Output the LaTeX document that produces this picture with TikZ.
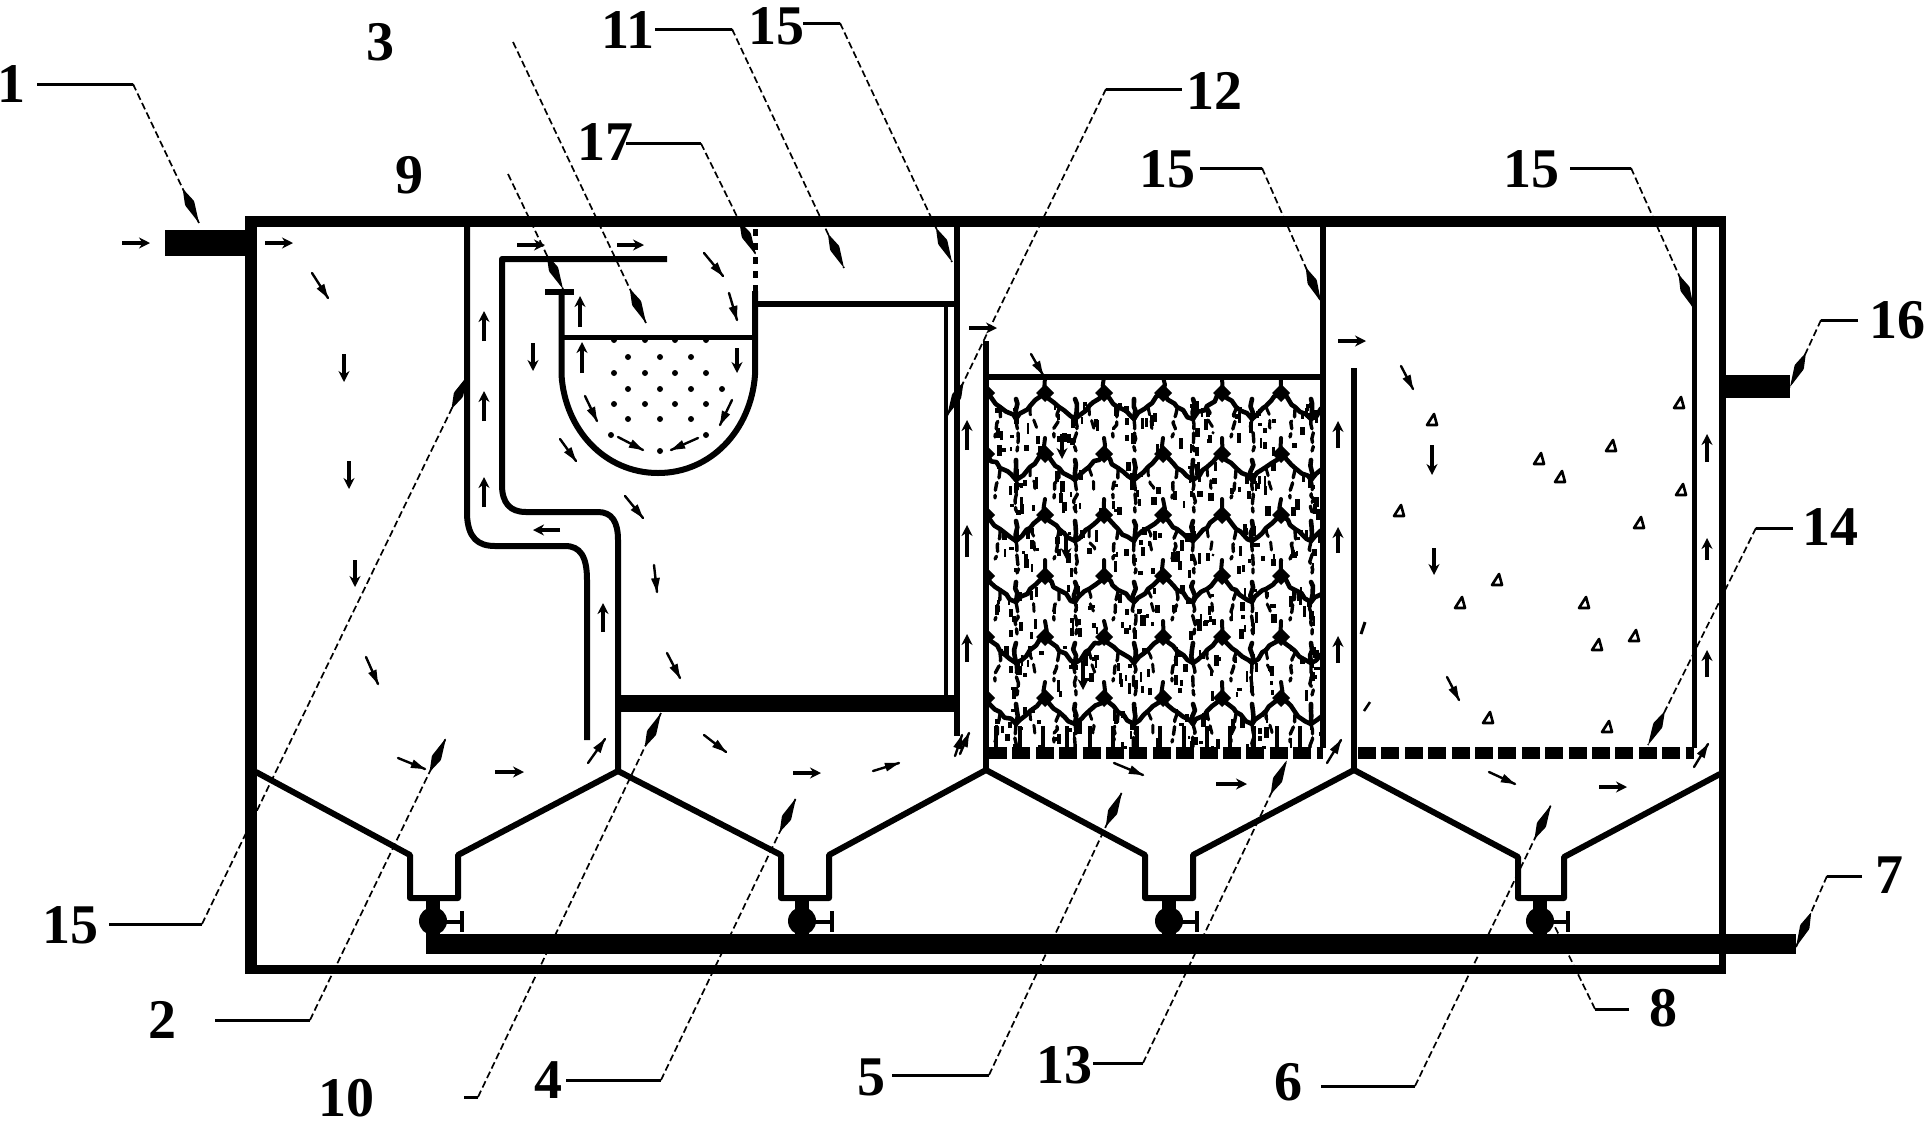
\documentclass[tikz,border=0pt]{standalone}
\usepackage{fontspec}
\setmainfont{Liberation Serif}
\usetikzlibrary{arrows.meta,calc,decorations.pathmorphing}
\tikzset{
  wall/.style={line width=6pt,line join=round},
  thinwall/.style={line width=5pt,line join=round},
  flow/.style={line width=3.4pt,-{Stealth[length=11pt,width=11pt]}},
  lab/.style={font=\fontsize{56}{56}\selectfont\bfseries,inner sep=0pt},
  leadh/.style={line width=3pt},
  leadd/.style={line width=1.7pt,dash pattern=on 7pt off 3.5pt},
  bubble/.style={line width=2.6pt,fill=white,line join=round},
  scaleln/.style={line width=4.6pt,line join=round,line cap=round,decorate,decoration={random steps,segment length=7pt,amplitude=2pt}}
}
\newcommand{\kite}[2]{%
  \fill[rounded corners=1pt] (#1) -- ($($(#1)!22pt!(#2)$)!5pt!90:(#1)$) -- ($(#1)!38pt!(#2)$) -- ($($(#1)!22pt!(#2)$)!5pt!-90:(#1)$) -- cycle;
}
\newcommand{\lead}[7]{%
  \node[lab] (l#1) at (#3) {#2};
  \coordinate (h#1) at (#4);
  \coordinate (k#1) at (#5);
  \coordinate (t#1) at (#6);
  \draw[leadh] (h#1) -- (k#1);
  \draw[leadd] (k#1) -- (t#1);
  \ifnum#7=1 \kite{t#1}{k#1}\fi
}
\begin{document}
\begin{tikzpicture}[x=1pt,y=-1pt]
\useasboundingbox (0,0) rectangle (1924,1125);
\fill[white] (0,0) rectangle (1924,1125);
% media
\begin{scope}
\clip (989,380) rectangle (1320,748);
\pgfmathsetseed{7}
\foreach \r in {0,...,5}{
  \pgfmathsetmacro{\yy}{393+61*\r}
  \foreach \c in {0,...,5}{
    \pgfmathsetmacro{\xx}{986+59*\c}
    \draw[scaleln] (\xx,\yy) -- (\xx+14,\yy+14) -- (\xx+30,\yy+26) -- (\xx+44,\yy+13) -- (\xx+59,\yy);
    \draw[scaleln] (\xx+30,\yy+26) -- (\xx+30,\yy+6);
    \draw[scaleln,line width=4pt] (\xx+59,\yy) -- (\xx+59,\yy-16);
    \draw[scaleln,line width=3.4pt,dash pattern=on 10pt off 4pt] (\xx+30,\yy+26) -- (\xx+31,\yy+58);
    \draw[scaleln,line width=3.4pt,dash pattern=on 8pt off 5pt] (\xx+14,\yy+16) -- (\xx+9,\yy+44);
    \draw[scaleln,line width=3pt,dash pattern=on 8pt off 6pt] (\xx+44,\yy+14) -- (\xx+50,\yy+40);
    \fill (\xx,\yy-9) -- (\xx+9,\yy) -- (\xx,\yy+9) -- (\xx-9,\yy) -- cycle;
    \foreach \n in {1,...,13}{
      \pgfmathsetmacro{\rx}{\xx+8+rnd*46}
      \pgfmathsetmacro{\ry}{\yy+8+rnd*48}
      \pgfmathsetmacro{\rw}{2+rnd*3.5}
      \pgfmathsetmacro{\rh}{2.5+rnd*9}
      \fill (\rx,\ry) rectangle (\rx+\rw,\ry+\rh);
    }
  }
}
\foreach \x in {996,1020,1043,1067,1090,1113,1137,1160,1184,1207,1230,1254,1277,1300}{
  \draw[line width=4pt] (\x,726) -- (\x,748);
}
\end{scope}
% outer box
\fill (245,216) rectangle (257,974);
\fill (245,216) rectangle (1726,227);
\fill (245,965) rectangle (1726,974);
\fill (1719,216) rectangle (1726,974);
\fill (165,230) rectangle (245,256);
\fill (1726,375) rectangle (1790,398);
% pipe walls
\draw[wall] (467,221) -- (467,515) .. controls (468,538) and (478,546) .. (495,546) -- (565,546) .. controls (580,546) and (587,556) .. (587,580) -- (587,740);
\draw[wall] (667,259) -- (502,259) -- (502,485) .. controls (502,503) and (510,512) .. (526,512) -- (598,512) .. controls (612,512) and (618,522) .. (618,540) -- (618,772);
% tank
\draw[wall] (561.5,293) -- (561.5,375) .. controls (565,430) and (605,473) .. (658,473) .. controls (711,473) and (751,430) .. (755,375) -- (755,291);
\draw[wall] (545,292) -- (574,292);
\draw[thinwall] (561,337.5) -- (755,337.5);
\draw[line width=5pt,dash pattern=on 7pt off 7pt] (755,229) -- (755,291);
\foreach \x/\y in {628/357,660/357,691/357,614/373,645/373,675/373,706/373,628/389,660/389,691/389,722/389,614/404,645/404,675/404,706/404,628/419,660/419,691/419,611/435,706/435,660/451}{
  \fill (\x,\y) circle (3pt);
}
\foreach \x in {614,645,675,706}{\fill (\x,340) circle (3pt);}
% partitions
\draw[wall] (755,304) -- (956,304);
\draw[line width=4pt] (946,304) -- (946,696);
\draw[wall] (956.5,221) -- (956.5,736);
\fill (618,695) rectangle (960,712);
\draw[wall] (986,341) -- (986,770);
\draw[wall] (986,377) -- (1323,377);
\draw[wall] (1323,221) -- (1323,748);
\draw[wall] (1354,368) -- (1354,770);
\draw[thinwall] (1694,221) -- (1694,748);
% plates
\draw[line width=12pt,dash pattern=on 18pt off 5.4pt] (989,752.5) -- (1323,752.5);
\draw[line width=12pt,dash pattern=on 18pt off 5.4pt] (1358,752.5) -- (1694,752.5);
% hoppers
\draw[wall] (256,772) -- (410,855) -- (410,898) -- (458,898) -- (458,855) -- (618,771) -- (781,855) -- (781,898) -- (829,898) -- (829,855) -- (986,770) -- (1145,855) -- (1145,898) -- (1193,898) -- (1193,855) -- (1354,770) -- (1518,857) -- (1518,898) -- (1564,898) -- (1564,857) -- (1720,774);
% valves
\foreach \x/\b in {433/462,802/832,1169/1197,1540/1568}{
  \fill (\x-7,898) rectangle (\x+7,935);
  \fill (\x,921) circle (14pt);
  \draw[line width=4pt] (\x,922) -- (\b,922);
  \draw[line width=4pt] (\b,911) -- (\b,932);
}
\fill (426,934) rectangle (1796,954);
% flow arrows
\foreach \a/\b/\c/\d in {
122/243/150/243, 265/243/293/243, 344/354/344/382, 349/461/349/489, 355/560/355/587,
495/772/524/772, 603/632/603/603, 560/530/533/530,
484/341/484/311, 484/421/484/391, 484/507/484/477, 517/245/545/245, 617/245/644/245, 533/343/533/371,
580/327/580/296, 582/373/582/342, 737/348/737/373,
793/773/821/773,
969/328/997/328, 967/450/967/420, 967/557/967/525, 967/662/967/634,
1062/434/1062/459, 1066/534/1066/559, 1083/661/1083/690, 1216/784/1247/784,
1338/448/1338/421, 1338/553/1338/527, 1338/663/1338/636, 1338/341/1366/341,
1432/445/1432/475, 1434/548/1434/575, 
1599/787/1627/787, 1707/462/1707/434, 1707/560/1707/538, 1707/677/1707/650}{
  \draw[flow] (\a,\b) -- (\c,\d);
}
\foreach \a/\b/\c/\d in {
312/273/328/298, 366/657/378/684, 398/758/425/769, 588/763/605/739,
704/253/723/276, 729/293/737/320, 585/396/597/421, 732/400/720/425, 618/437/643/450, 698/438/671/450, 560/439/576/461, 625/496/643/518,
654/565/657/592, 667/653/680/678, 704/735/726/752, 873/771/899/763, 955/756/962/735,
960/754/969/733, 1031/354/1043/375, 1114/763/1143/775,
1327/763/1341/740, 1401/366/1413/389, 1447/677/1459/700, 1489/772/1515/784, 1694/767/1708/744}{
  \draw[line width=2.4pt,line cap=round] (\a,\b) -- (\c,\d);
  \fill (\c,\d) -- ($($(\c,\d)!14pt!(\a,\b)$)!4.5pt!90:(\c,\d)$) -- ($($(\c,\d)!14pt!(\a,\b)$)!4.5pt!-90:(\c,\d)$) -- cycle;
}
% bubbles
\foreach \x/\y in {1432/420,1679/403,1611/446,1539/459,1560/477,1681/490,1399/511,1639/523,1497/580,1584/603,1634/636,1597/645,1488/718,1607/727,1460/603}{
  \draw[bubble] (\x-5,\y+5) -- (\x+5,\y+5) -- (\x+2,\y-6) -- cycle;
}
\draw[line width=2.5pt] (1364,711) -- (1370,702);
\draw[line width=3pt] (1361,634) -- (1365,622);
% leaders
\lead{a}{1}{12,84}{37,84}{133,84}{199,223}{1}
\lead{c}{3}{380,42}{513,42}{513,42}{646,323}{1}
\lead{i}{9}{409,175}{508,174}{508,174}{563,289}{1}
\lead{k}{11}{628,30}{655,29}{732,29}{844,268}{1}
\lead{o}{15}{776,26}{803,23}{840,23}{952,262}{1}
\lead{q}{17}{605,142}{626,143.5}{701,143.5}{756,255}{1}
\lead{l}{12}{1214,91}{1106,89}{1182,89}{1182,89}{0}
\coordinate (tl) at (947,416);
\draw[leadd] (hl) -- (tl);
\kite{tl}{hl}
\lead{p}{15}{1167,169}{1200,168}{1262,168}{1321,302}{1}
\lead{r}{15}{1531,169}{1570,168}{1631,168}{1694,309}{1}
\lead{s}{16}{1897,320}{1858,320}{1821,320}{1790,387}{1}
\lead{n}{14}{1830,527}{1793,528}{1756,528}{1648,745}{1}
\lead{g}{7}{1889,875}{1862,876}{1827,876}{1796,947}{1}
\lead{h}{8}{1663,1008}{1629,1009}{1595,1009}{1555,927}{0}
\lead{f}{6}{1288,1082}{1321,1086}{1415,1086}{1551,805}{1}
\lead{m}{13}{1064,1065}{1093,1063}{1143,1063}{1287,760}{1}
\lead{e}{5}{871,1077}{892,1075}{989,1075}{1122,792}{1}
\lead{d}{4}{548,1080}{566,1080}{661,1080}{796,798}{1}
\lead{j}{10}{346,1098}{464,1097}{478,1097}{661,713}{1}
\lead{b}{2}{162,1020}{215,1020}{310,1020}{446,738}{1}
\lead{t}{15}{70,925}{109,924}{202,924}{468,375}{1}
\end{tikzpicture}
\end{document}
